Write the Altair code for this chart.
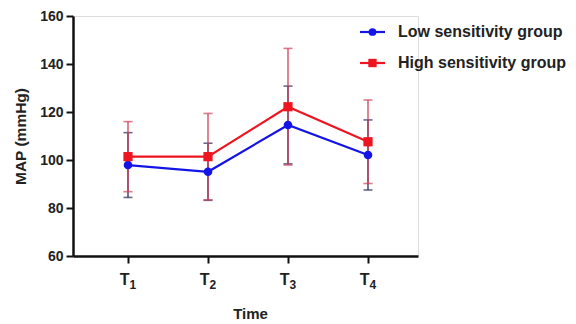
import altair as alt
import pandas as pd

time_base = ["T", "T", "T", "T"]
time_sub = ["1", "2", "3", "4"]
groups = ["Low sensitivity group", "High sensitivity group"]
low_mean = [97.9, 95.1, 114.6, 102.1]
low_sd = [13.5, 11.9, 16.2, 14.6]
high_mean = [101.4, 101.4, 122.2, 107.6]
high_sd = [14.6, 18.0, 24.3, 17.4]
y_ticks = [60, 80, 100, 120, 140, 160]

colors = {"Low sensitivity group": "#1414e6", "High sensitivity group": "#ec1520"}
err_colors = {"Low sensitivity group": "#2a2a5a", "High sensitivity group": "#d0405a"}
shapes = {"Low sensitivity group": "circle", "High sensitivity group": "square"}

rows = []
for g, means, sds in [(groups[0], low_mean, low_sd), (groups[1], high_mean, high_sd)]:
    for i, (m, s) in enumerate(zip(means, sds)):
        rows.append({"group": g, "idx": i + 1, "mean": m, "lo": m - s, "hi": m + s})
df = pd.DataFrame(rows)

lab = pd.DataFrame({"idx": [1, 2, 3, 4], "base": time_base, "sub": time_sub})

FONT = "Liberation Sans"
x_enc = alt.X("idx:Q", scale=alt.Scale(domain=[0.3125, 4.625], nice=False, zero=False),
              axis=alt.Axis(values=[1, 2, 3, 4], labels=False, title="Time",
                            grid=False, domainColor="#111", domainWidth=2.5,
                            tickColor="#111", tickWidth=2, tickSize=7,
                            titleFont=FONT, titleFontSize=15, titleFontWeight="bold",
                            titleColor="#222", titleX=177, titleY=57,
                            titleBaseline="middle"))
y_enc = alt.Y("mean:Q", scale=alt.Scale(domain=[60, 160], nice=False, zero=False),
              axis=alt.Axis(values=y_ticks, title="MAP (mmHg)", grid=False,
                            domainColor="#111", domainWidth=2.5,
                            tickColor="#111", tickWidth=2, tickSize=7,
                            labelFont=FONT, labelFontSize=14, labelFontWeight="bold",
                            labelColor="#222", labelPadding=3,
                            titleFont=FONT, titleFontSize=15.5, titleFontWeight="bold",
                            titleColor="#222", titleX=-53, titleY=120,
                            titleAnchor="middle", titleBaseline="middle"))

layers = []
for g in groups:
    d = df[df.group == g]
    base = alt.Chart(d)
    layers.append(base.mark_rule(color=err_colors[g], strokeWidth=1.3).encode(
        x=x_enc, y=alt.Y("lo:Q"), y2="hi:Q"))
    for fld in ["lo", "hi"]:
        layers.append(base.mark_tick(color=err_colors[g], thickness=1.6, size=9,
                                     orient="horizontal").encode(
            x=x_enc, y=alt.Y(f"{fld}:Q")))
for g in groups:
    d = df[df.group == g]
    base = alt.Chart(d)
    layers.append(base.mark_line(color=colors[g], strokeWidth=2.2).encode(x=x_enc, y=y_enc))
    layers.append(base.mark_point(color=colors[g], filled=True, opacity=1,
                                  shape=shapes[g],
                                  size=75 if shapes[g] == "circle" else 85).encode(
        x=x_enc, y=y_enc))

# x tick labels: T with subscript digit
lb = alt.Chart(lab)
layers.append(lb.mark_text(align="right", baseline="alphabetic", font=FONT, fontSize=16,
                           fontWeight="bold", color="#222", dx=1.5).encode(
    x=alt.X("idx:Q"), y=alt.value(269), text="base:N"))
layers.append(lb.mark_text(align="left", baseline="alphabetic", font=FONT, fontSize=12,
                           fontWeight="bold", color="#222", dx=1.5).encode(
    x=alt.X("idx:Q"), y=alt.value(273), text="sub:N"))

# manual legend
leg_y = {groups[0]: 16, groups[1]: 47}
for g in groups:
    ld = pd.DataFrame({"label": [g]})
    lc = alt.Chart(ld)
    layers.append(lc.mark_rule(color=colors[g], strokeWidth=2.2).encode(
        x=alt.value(287), x2=alt.value(312), y=alt.value(leg_y[g])))
    layers.append(lc.mark_point(color=colors[g], filled=True, opacity=1, shape=shapes[g],
                                size=60 if shapes[g] == "circle" else 70).encode(
        x=alt.value(299.5), y=alt.value(leg_y[g])))
    layers.append(lc.mark_text(align="left", baseline="middle", font=FONT, fontSize=16,
                               fontWeight="bold", color="#222").encode(
        x=alt.value(325), y=alt.value(leg_y[g]), text="label:N"))

chart = alt.layer(*layers).properties(
    width=345, height=240,
    autosize=alt.AutoSizeParams(type="none"),
    padding={"left": 65, "top": 8, "right": 150, "bottom": 66},
).configure_view(stroke=None).configure(background="white")

chart.save("out.html", embed_options={"renderer": "svg", "actions": False})
